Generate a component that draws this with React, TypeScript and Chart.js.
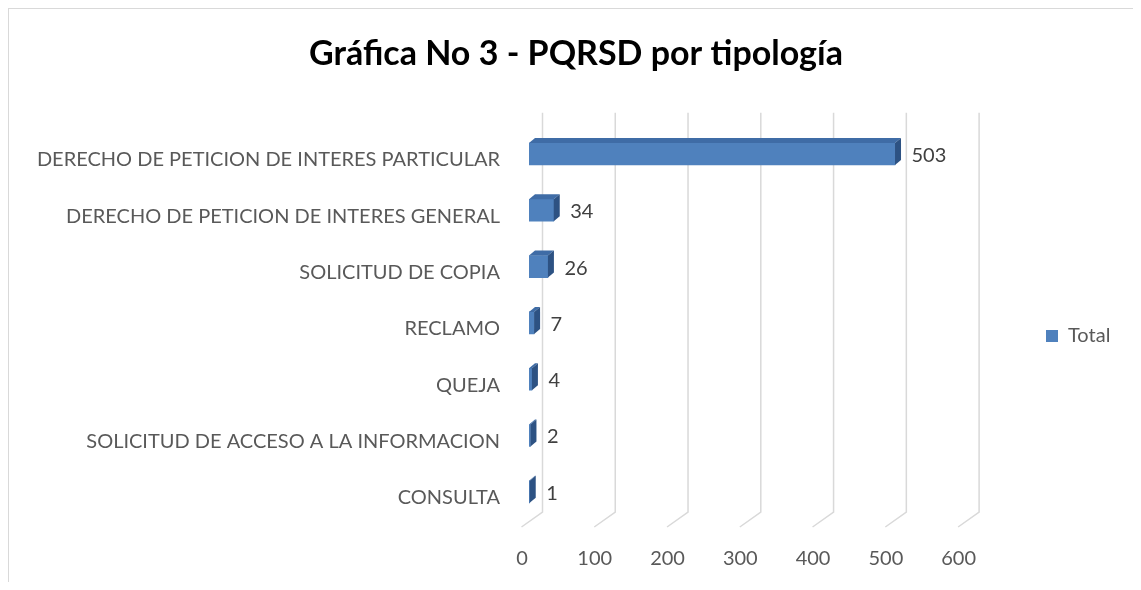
import { useEffect, useRef } from 'react';
import { Chart, registerables } from 'chart.js';

Chart.register(...registerables);

const categories = [
  'DERECHO DE PETICION DE INTERES PARTICULAR',
  'DERECHO DE PETICION DE INTERES GENERAL',
  'SOLICITUD DE COPIA',
  'RECLAMO',
  'QUEJA',
  'SOLICITUD DE ACCESO A LA INFORMACION',
  'CONSULTA',
];
const totals = [503, 34, 26, 7, 4, 2, 1];
const xTickValues = [0, 100, 200, 300, 400, 500, 600];
const seriesLabel = 'Total';
const chartTitle = 'Gráfica No 3 - PQRSD por tipología';

const W = 1124;
const H = 573;
const FONT = 'Lato, "Open Sans", sans-serif';
const FRONT = '#4f81bd';
const TOP_FACE = '#3f6ca6';
const SIDE_FACE = '#2d5283';
const DEPTH_X = 6;
const DEPTH_Y = -5;
const PLOT_RIGHT = 956.6;
const PLOT_BOTTOM = 511;
const LEGEND_BOX_X = 1037;
const LEGEND_CY = 327;

const depthPlugin = {
  id: 'depth3d',
  afterLayout(chart: any) {
    const lg = chart.legend;
    if (!lg) return;
    const p = lg.options.labels.padding;
    const dx = LEGEND_BOX_X - (lg.left + p);
    lg.left += dx;
    lg.right += dx;
    const dy = LEGEND_CY - (lg.top + lg.bottom) / 2;
    lg.top += dy;
    lg.bottom += dy;
  },
  beforeDatasetsDraw(chart: any) {
    const { ctx, chartArea } = chart;
    const xs = chart.scales.x;
    ctx.save();
    ctx.strokeStyle = '#d9d9d9';
    ctx.lineWidth = 1.5;
    for (const v of xTickValues) {
      const x = xs.getPixelForValue(v) + 13.5;
      ctx.beginPath();
      ctx.moveTo(x, chartArea.top - 13);
      ctx.lineTo(x, chartArea.bottom - 8);
      ctx.lineTo(x - 21, chartArea.bottom + 7);
      ctx.stroke();
    }
    ctx.restore();
  },
  afterDatasetsDraw(chart: any) {
    const { ctx } = chart;
    const meta = chart.getDatasetMeta(0);
    ctx.save();
    meta.data.forEach((el: any, i: number) => {
      const { x, y, base, height } = el.getProps(['x', 'y', 'base', 'height'], true);
      const t = y - height / 2;
      const b = y + height / 2;
      ctx.fillStyle = TOP_FACE;
      ctx.beginPath();
      ctx.moveTo(base, t);
      ctx.lineTo(x, t);
      ctx.lineTo(x + DEPTH_X, t + DEPTH_Y);
      ctx.lineTo(base + DEPTH_X, t + DEPTH_Y);
      ctx.closePath();
      ctx.fill();
      ctx.fillStyle = SIDE_FACE;
      ctx.beginPath();
      ctx.moveTo(x, t);
      ctx.lineTo(x + DEPTH_X, t + DEPTH_Y);
      ctx.lineTo(x + DEPTH_X, b + DEPTH_Y);
      ctx.lineTo(x, b);
      ctx.closePath();
      ctx.fill();
      ctx.fillStyle = '#404040';
      ctx.font = `20px ${FONT}`;
      ctx.textAlign = 'left';
      ctx.textBaseline = 'middle';
      ctx.fillText(String(totals[i]), x + 16.5, y + 1.5);
    });
    ctx.restore();
  },
};

export default function App() {
  const ref = useRef<HTMLCanvasElement | null>(null);

  useEffect(() => {
    document.documentElement.style.overflow = 'hidden';
    const canvas = ref.current;
    if (!canvas) return;
    Chart.defaults.font.family = FONT;
    const chart = new Chart(canvas, {
      type: 'bar',
      data: {
        labels: categories,
        datasets: [
          {
            label: seriesLabel,
            data: totals,
            backgroundColor: FRONT,
            borderWidth: 0,
            barThickness: 22,
          },
        ],
      },
      options: {
        indexAxis: 'y',
        responsive: false,
        animation: false,
        layout: { padding: { left: 10, right: 0, top: 0, bottom: 0 } },
        scales: {
          x: {
            type: 'linear',
            min: 0,
            max: 600,
            afterBuildTicks: (s: any) => {
              s.ticks = xTickValues.map((v) => ({ value: v }));
            },
            afterFit: (s: any) => {
              s.height = H - PLOT_BOTTOM;
            },
            grid: { display: false, drawTicks: false },
            border: { display: false },
            ticks: {
              color: '#595959',
              font: { size: 20, family: FONT },
              padding: 27,
              labelOffset: -7,
              maxRotation: 0,
            },
          },
          y: {
            type: 'category',
            afterFit: (s: any) => {
              s.width = 510;
            },
            grid: { display: false, drawTicks: false },
            border: { display: false },
            ticks: {
              color: '#595959',
              font: { size: 20, family: FONT },
              padding: 29,
              labelOffset: 6,
              autoSkip: false,
            },
          },
        },
        plugins: {
          title: {
            display: true,
            text: chartTitle,
            color: '#000000',
            font: { size: 34, weight: 'bold', family: FONT },
            padding: { top: 25, bottom: 51 },
          },
          legend: {
            display: true,
            position: 'right',
            fullSize: false,
            labels: {
              boxWidth: 12,
              boxHeight: 12,
              color: '#595959',
              font: { size: 20, family: FONT },
              padding: 10,
            },
          },
          tooltip: { enabled: false },
        },
      },
      plugins: [depthPlugin],
    } as any);

    const lw0 = (chart as any).legend.width;
    const p0 = (chart.options as any).plugins.legend.labels.padding;
    const target = W - PLOT_RIGHT;
    (chart.options as any).plugins.legend.labels.padding = Math.max(0, p0 + (target - lw0));
    chart.update();

    return () => chart.destroy();
  }, []);

  return (
    <div
      style={{
        width: W + 1,
        height: H + 1,
        boxSizing: 'border-box',
        borderTop: '1px solid #d9d9d9',
        borderLeft: '1px solid #d9d9d9',
        background: '#ffffff',
      }}
    >
      <canvas ref={ref} width={W} height={H} style={{ display: 'block', width: W, height: H }} />
    </div>
  );
}
